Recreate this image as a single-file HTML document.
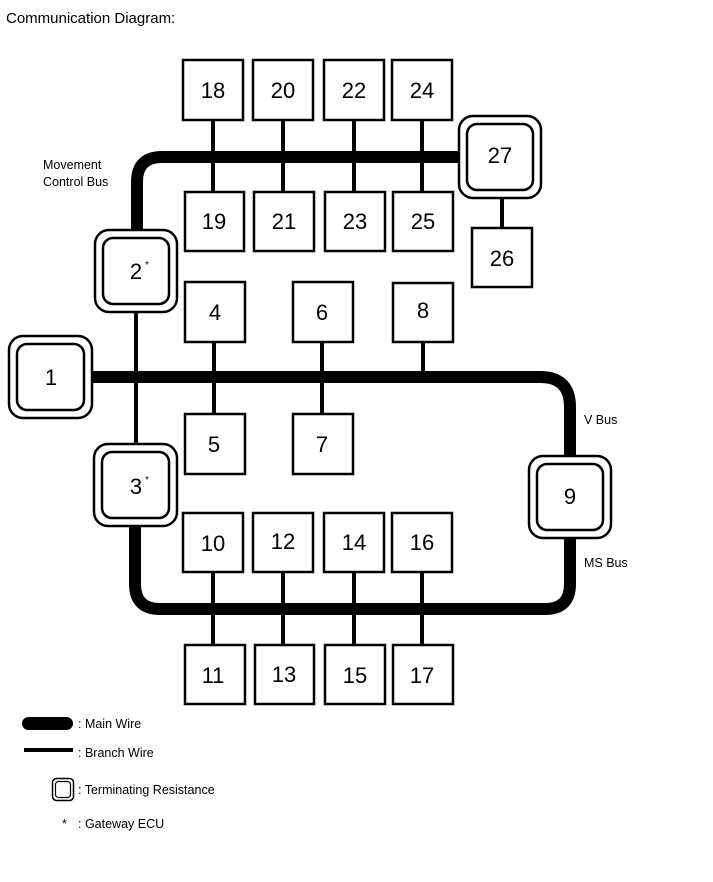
<!DOCTYPE html>
<html><head><meta charset="utf-8"><style>
html,body{margin:0;padding:0;background:#fff;}
svg{display:block;}
text{font-family:"Liberation Sans",Arial,sans-serif;fill:#000;}
</style></head><body>
<svg width="713" height="882" viewBox="0 0 713 882" xmlns="http://www.w3.org/2000/svg">
<text x="6" y="23" font-size="15">Communication Diagram:</text>

<!-- branch lines -->
<g stroke="#000" stroke-width="4" fill="none">
<line x1="213" y1="120" x2="213" y2="192"/>
<line x1="283" y1="120" x2="283" y2="192"/>
<line x1="354" y1="120" x2="354" y2="192"/>
<line x1="422" y1="120" x2="422" y2="192"/>
<line x1="502" y1="198" x2="502" y2="228"/>
<line x1="136" y1="312" x2="136" y2="444"/>
<line x1="214" y1="342" x2="214" y2="414"/>
<line x1="322" y1="342" x2="322" y2="414"/>
<line x1="423" y1="342" x2="423" y2="377"/>
<line x1="213" y1="572" x2="213" y2="645"/>
<line x1="283" y1="572" x2="283" y2="645"/>
<line x1="354" y1="572" x2="354" y2="645"/>
<line x1="422" y1="572" x2="422" y2="645"/>
</g>

<!-- main wires -->
<g stroke="#000" stroke-width="12" fill="none">
<path d="M137 232 V182 Q137 157 162 157 H460"/>
<path d="M92 377 H540 Q570 377 570 407 V457"/>
<path d="M570 537 V584 Q570 609 545 609 H160 Q135 609 135 584 V526"/>
</g>

<!-- plain boxes -->
<g fill="#fff" stroke="#000" stroke-width="2.5">
<rect x="183" y="60" width="60" height="60"/>
<rect x="253" y="60" width="60" height="60"/>
<rect x="324" y="60" width="60" height="60"/>
<rect x="392" y="60" width="60" height="60"/>
<rect x="185" y="192" width="59" height="59"/>
<rect x="254" y="192" width="60" height="59"/>
<rect x="325" y="192" width="60" height="59"/>
<rect x="393" y="192" width="60" height="59"/>
<rect x="472" y="228" width="60" height="59"/>
<rect x="185" y="282" width="60" height="60"/>
<rect x="293" y="282" width="60" height="60"/>
<rect x="393" y="283" width="60" height="59"/>
<rect x="185" y="414" width="60" height="60"/>
<rect x="293" y="414" width="60" height="60"/>
<rect x="183" y="513" width="60" height="59"/>
<rect x="253" y="513" width="60" height="59"/>
<rect x="324" y="513" width="60" height="59"/>
<rect x="392" y="513" width="60" height="59"/>
<rect x="185" y="645" width="60" height="59"/>
<rect x="255" y="645" width="59" height="59"/>
<rect x="325" y="645" width="60" height="59"/>
<rect x="393" y="645" width="60" height="59"/>
</g>

<!-- terminating nodes -->
<g fill="#fff" stroke="#000" stroke-width="2.5">
<rect x="459" y="116" width="82" height="82" rx="14"/>
<rect x="467" y="124" width="66" height="66" rx="10"/>
<rect x="95" y="230" width="82" height="82" rx="14"/>
<rect x="103" y="238" width="66" height="66" rx="10"/>
<rect x="9" y="336" width="83" height="82" rx="14"/>
<rect x="17" y="344" width="67" height="66" rx="10"/>
<rect x="94" y="444" width="83" height="82" rx="14"/>
<rect x="102" y="452" width="67" height="66" rx="10"/>
<rect x="529" y="456" width="82" height="82" rx="14"/>
<rect x="537" y="464" width="66" height="66" rx="10"/>
</g>

<g font-size="22" text-anchor="middle">
<text x="213" y="98">18</text>
<text x="283" y="98">20</text>
<text x="354" y="98">22</text>
<text x="422" y="98">24</text>
<text x="214" y="229">19</text>
<text x="284" y="229">21</text>
<text x="355" y="229">23</text>
<text x="423" y="229">25</text>
<text x="500" y="163">27</text>
<text x="502" y="266">26</text>
<text x="136" y="279">2</text>
<text x="215" y="320">4</text>
<text x="322" y="320">6</text>
<text x="423" y="318">8</text>
<text x="51" y="385">1</text>
<text x="214" y="452">5</text>
<text x="322" y="452">7</text>
<text x="136" y="494">3</text>
<text x="570" y="504">9</text>
<text x="213" y="551">10</text>
<text x="283" y="549">12</text>
<text x="354" y="550">14</text>
<text x="422" y="550">16</text>
<text x="213" y="683">11</text>
<text x="284" y="682">13</text>
<text x="355" y="683">15</text>
<text x="422" y="683">17</text>
</g>
<text x="145" y="268" font-size="10">*</text>
<text x="145" y="483" font-size="10">*</text>

<g font-size="12.5">
<text x="43" y="169">Movement</text>
<text x="43" y="186">Control Bus</text>
<text x="584" y="424">V Bus</text>
<text x="584" y="567">MS Bus</text>
</g>

<!-- legend -->
<rect x="22" y="717" width="51" height="13" rx="6.5" fill="#000"/>
<line x1="24" y1="750" x2="73" y2="750" stroke="#000" stroke-width="4"/>
<rect x="52.5" y="778.5" width="21" height="22" rx="4" fill="#fff" stroke="#000" stroke-width="1.5"/>
<rect x="55.5" y="781.5" width="15" height="16" rx="3" fill="#fff" stroke="#000" stroke-width="1.2"/>
<g font-size="12.5">
<text x="78" y="728">: Main Wire</text>
<text x="78" y="757">: Branch Wire</text>
<text x="78" y="794">: Terminating Resistance</text>
<text x="62" y="828">*</text>
<text x="78" y="828">: Gateway ECU</text>
</g>
</svg>
</body></html>
